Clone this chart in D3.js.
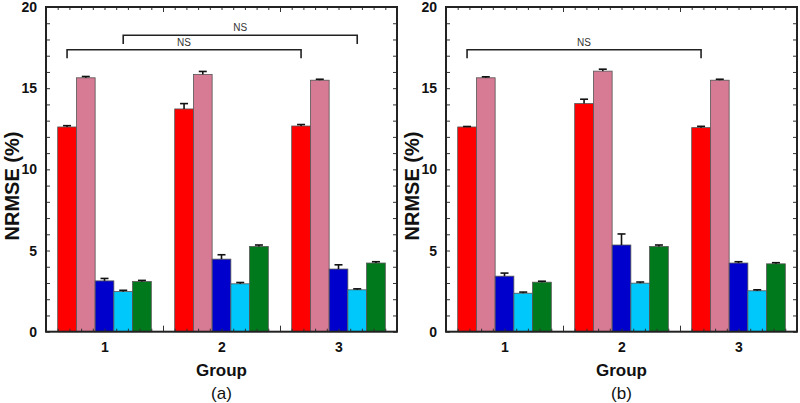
<!DOCTYPE html>
<html>
<head>
<meta charset="utf-8">
<script src="https://cdn.jsdelivr.net/npm/d3@7"></script>
<style>
    body { margin: 0; background: #fff; }
    svg { display: block; font-family: "Liberation Sans", Arial, sans-serif; }
</style>
</head>
<body>
<div id="chart"></div>
<script>
    // groups on the x axis
    const groups = [1, 2, 3];
    const seriesColors = ["#ff0000", "#d77a93", "#0000cc", "#00c8fa", "#00781c"];

    // panel (a): mean and upper error per group, series in order red, pink, blue, cyan, green
    const meansA = [
        [12.61, 15.64, 3.13, 2.47, 3.09],
        [13.72, 15.85, 4.47, 2.95, 5.25],
        [12.67, 15.49, 3.86, 2.58, 4.23]
    ];
    const errsA = [
        [0.08, 0.08, 0.15, 0.08, 0.07],
        [0.33, 0.18, 0.27, 0.08, 0.09],
        [0.09, 0.06, 0.26, 0.06, 0.08]
    ];

    // panel (b)
    const meansB = [
        [12.61, 15.64, 3.42, 2.37, 3.05],
        [14.05, 16.05, 5.34, 2.99, 5.25],
        [12.57, 15.49, 4.23, 2.52, 4.18]
    ];
    const errsB = [
        [0.03, 0.06, 0.19, 0.07, 0.06],
        [0.27, 0.12, 0.68, 0.07, 0.09],
        [0.08, 0.06, 0.08, 0.06, 0.07]
    ];

    // significance brackets: [group, series] at each end, bar height and leg bottom
    const bracketsA = [
        { from: [1, 0], to: [3, 0], top: 17.37, foot: 16.84, label: "NS" },
        { from: [1, 3], to: [3, 3], top: 18.26, foot: 17.72, label: "NS" }
    ];
    const bracketsB = [
        { from: [1, 0], to: [3, 0], top: 17.37, foot: 16.84, label: "NS" }
    ];

    const yTicks = [0, 5, 10, 15, 20];

    const width = 800;
    const height = 403;
    const plotW = 351;
    const plotH = 324.7;
    const barW = 0.16;   // in group units

    const svg = d3.select("#chart")
        .append("svg")
        .attr("width", width)
        .attr("height", height);

    const x = d3.scaleLinear().domain([0.5, 3.5]).range([0, plotW]);
    const y = d3.scaleLinear().domain([0, 20]).range([plotH, 0]);

    const barLeft = (g, i) => g - 0.4 + i * barW;
    const barMid = (g, i) => g - 0.4 + (i + 0.5) * barW;

    function drawPanel(left, means, errs, brackets, tag) {
        const g = svg.append("g").attr("transform", `translate(${left},7)`);

        // bars
        const rows = [];
        groups.forEach((grp, gi) => {
            means[gi].forEach((v, si) => {
                rows.push({ grp: grp, s: si, v: v, e: errs[gi][si] });
            });
        });

        g.selectAll(".bar")
            .data(rows)
            .enter().append("rect")
            .attr("class", "bar")
            .attr("x", d => x(barLeft(d.grp, d.s)))
            .attr("width", x(barW) - x(0))
            .attr("y", d => y(d.v))
            .attr("height", d => y(0) - y(d.v))
            .attr("fill", d => seriesColors[d.s])
            .attr("stroke", "#555")
            .attr("stroke-width", 0.8);

        // one-sided error bars
        const err = g.selectAll(".err")
            .data(rows)
            .enter().append("g")
            .attr("class", "err")
            .attr("stroke", "#111")
            .attr("stroke-width", 1.6);
        err.append("line")
            .attr("x1", d => x(barMid(d.grp, d.s)))
            .attr("x2", d => x(barMid(d.grp, d.s)))
            .attr("y1", d => y(d.v))
            .attr("y2", d => y(d.v + d.e));
        err.append("line")
            .attr("x1", d => x(barMid(d.grp, d.s)) - 4)
            .attr("x2", d => x(barMid(d.grp, d.s)) + 4)
            .attr("y1", d => y(d.v + d.e))
            .attr("y2", d => y(d.v + d.e));

        // axes: ticks point inward on all four sides
        const minorY = d3.range(0, 21);
        const minorX = d3.range(6, 35).map(d => d / 10);
        const majorX = [1.5, 2.5];

        g.append("g")
            .call(d3.axisLeft(y).tickValues(minorY).tickSize(-4).tickFormat(""));
        g.append("g")
            .attr("transform", `translate(${plotW},0)`)
            .call(d3.axisRight(y).tickValues(minorY).tickSize(-4).tickFormat(""));
        g.append("g")
            .call(d3.axisTop(x).tickValues(minorX).tickSize(-3).tickFormat(""));
        g.append("g")
            .call(d3.axisTop(x).tickValues(majorX).tickSize(-5).tickFormat(""));
        g.append("g")
            .attr("transform", `translate(0,${plotH})`)
            .call(d3.axisBottom(x).tickValues(minorX).tickSize(-3).tickFormat(""));
        g.append("g")
            .attr("transform", `translate(0,${plotH})`)
            .call(d3.axisBottom(x).tickValues(majorX).tickSize(-6).tickFormat(""));

        // labelled axes
        g.append("g")
            .attr("class", "ylab")
            .call(d3.axisLeft(y).tickValues(yTicks).tickSize(0).tickPadding(9));
        g.append("g")
            .attr("class", "xlab")
            .attr("transform", `translate(0,${plotH})`)
            .call(d3.axisBottom(x).tickValues(groups).tickSize(0).tickPadding(10).tickFormat(d3.format("d")));

        g.selectAll(".ylab text, .xlab text")
            .style("font-size", "14px")
            .style("font-weight", "bold")
            .attr("fill", "#111");

        // frame
        g.append("rect")
            .attr("width", plotW)
            .attr("height", plotH)
            .attr("fill", "none")
            .attr("stroke", "#222")
            .attr("stroke-width", 2);
        g.selectAll(".domain").remove();
        g.selectAll(".tick line").attr("stroke", "#333").attr("stroke-width", 1);

        // significance brackets
        brackets.forEach(b => {
            const x1 = x(barMid(b.from[0], b.from[1]));
            const x2 = x(barMid(b.to[0], b.to[1]));
            g.append("path")
                .attr("d", `M${x1},${y(b.foot)}V${y(b.top)}H${x2}V${y(b.foot)}`)
                .attr("fill", "none")
                .attr("stroke", "#222")
                .attr("stroke-width", 1.6);
            g.append("text")
                .attr("x", (x1 + x2) / 2)
                .attr("y", y(b.top) - 4)
                .attr("text-anchor", "middle")
                .style("font-size", "10px")
                .attr("fill", "#333")
                .text(b.label);
        });

        // titles
        g.append("text")
            .attr("transform", `translate(${-34},${179}) rotate(-90)`)
            .attr("text-anchor", "middle")
            .attr("dy", "0.35em")
            .style("font-size", "20px")
            .style("font-weight", "bold")
            .attr("fill", "#111")
            .text("NRMSE (%)");

        g.append("text")
            .attr("x", plotW / 2)
            .attr("y", 363)
            .attr("text-anchor", "middle")
            .attr("dy", "0.35em")
            .style("font-size", "17px")
            .style("font-weight", "bold")
            .attr("fill", "#111")
            .text("Group");

        g.append("text")
            .attr("x", plotW / 2)
            .attr("y", 386)
            .attr("text-anchor", "middle")
            .attr("dy", "0.35em")
            .style("font-size", "17px")
            .attr("fill", "#111")
            .text(tag);
    }

    drawPanel(46, meansA, errsA, bracketsA, "(a)");
    drawPanel(446, meansB, errsB, bracketsB, "(b)");
</script>
</body>
</html>
